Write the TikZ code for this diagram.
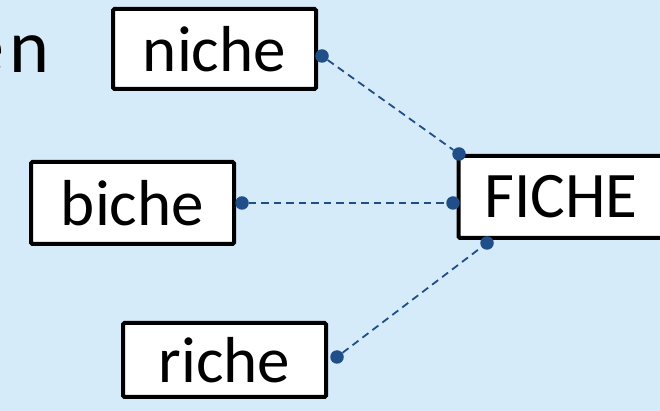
\documentclass[tikz,border=0pt]{standalone}
\usepackage{fontspec}
\setmainfont{Carlito}
\definecolor{bgblue}{HTML}{D6EBFA}
\definecolor{dotblue}{HTML}{1F4E89}
\begin{document}
\begin{tikzpicture}[x=1pt,y=1pt,
  wordbox/.style={draw=black, fill=white, line width=4pt, rounded corners=1.5pt,
    inner sep=0pt, minimum width=203pt, font=\fontsize{65}{65}\selectfont},
  bigword/.style={anchor=base east, inner sep=0pt, font=\fontsize{76}{76}\selectfont},
  dotnode/.style={circle, fill=dotblue, inner sep=0pt, minimum size=13.5pt},
  link/.style={draw=dotblue, line width=1.8pt, dash pattern=on 7.5pt off 5pt}]
\useasboundingbox (0,0) rectangle (660,411);
\clip (0,0) rectangle (660,411);
\fill[bgblue] (0,0) rectangle (660,411);
\node[bigword] (lefte) at (4.3,338) {e};
\node[bigword] (leftn) at (50,338) {n};
\node[wordbox, minimum height=80pt] (niche) at (214.5,362) {niche};
\node[wordbox, minimum height=82pt] (biche) at (132.5,208) {biche};
\node[wordbox, minimum height=74pt] (riche) at (224.5,51) {riche};
\node[wordbox, minimum height=82pt, minimum width=205pt] (fiche) at (561,214) {FICHE};
\node[dotnode] (dn) at (322,355) {};
\node[dotnode] (db) at (242,208) {};
\node[dotnode] (dr) at (337,54) {};
\node[dotnode] (f1) at (459,257) {};
\node[dotnode] (f2) at (453,208) {};
\node[dotnode] (f3) at (487,168) {};
\path[link] (dn) -- (f1);
\path[link] (db) -- (f2);
\path[link] (dr) -- (f3);
\end{tikzpicture}
\end{document}
